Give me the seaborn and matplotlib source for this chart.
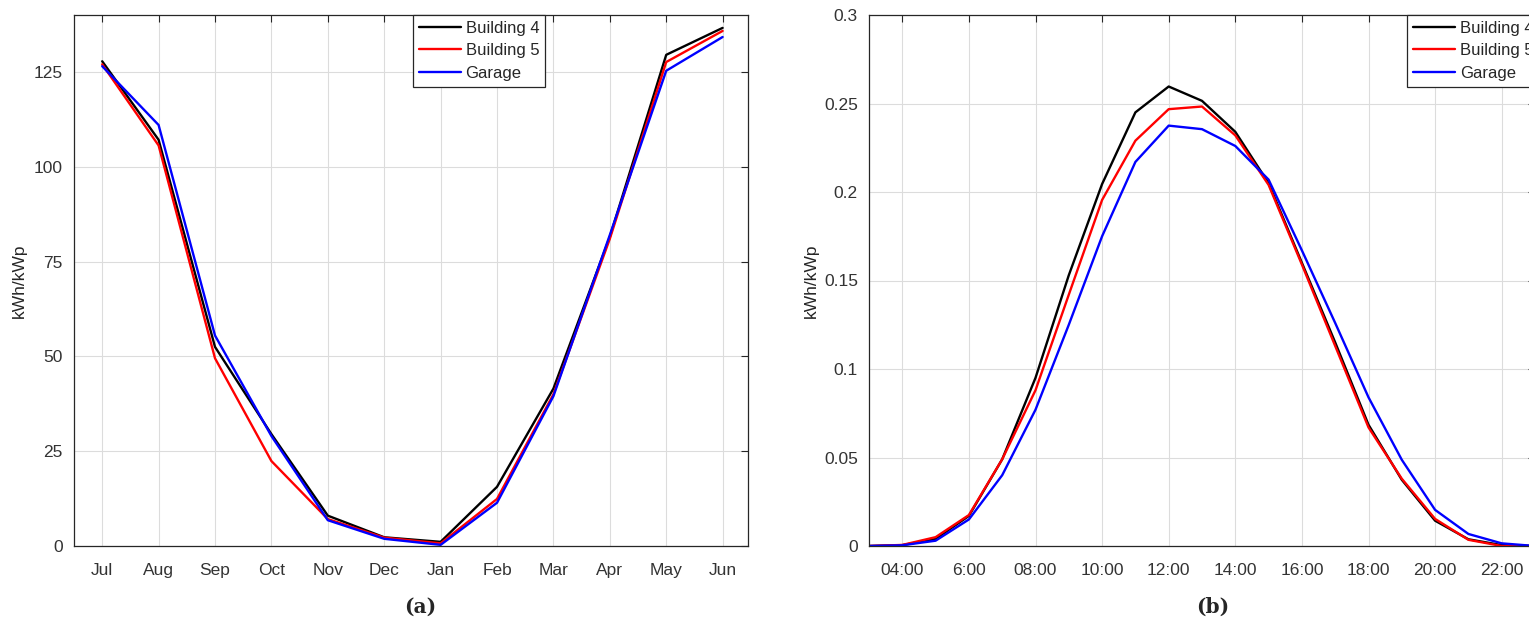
import numpy as np
import pandas as pd
import matplotlib
matplotlib.use("Agg")
import matplotlib.pyplot as plt
import seaborn as sns

# Monthly specific yield (kWh/kWp)
months = ["Jul", "Aug", "Sep", "Oct", "Nov", "Dec", "Jan", "Feb", "Mar", "Apr", "May", "Jun"]
monthly_b4 = [127.8, 107.1, 52.5, 29.5, 8.0, 2.3, 1.1, 15.6, 41.5, 81.5, 129.5, 136.6]
monthly_b5 = [127.0, 105.6, 49.5, 22.4, 7.1, 2.2, 0.7, 12.4, 40.0, 81.0, 127.6, 135.8]
monthly_garage = [126.5, 111.0, 55.5, 29.0, 6.8, 1.9, 0.3, 11.4, 39.5, 82.0, 125.3, 134.2]

# Average hourly specific yield (kWh/kWp)
hours = list(range(3, 24))
hourly_b4 = [0.0, 0.0005, 0.004, 0.017, 0.049, 0.095, 0.153, 0.2045, 0.245, 0.2596, 0.2515,
             0.234, 0.205, 0.160, 0.115, 0.0685, 0.0374, 0.0143, 0.0038, 0.0005, 0.0]
hourly_b5 = [0.0, 0.0006, 0.005, 0.0175, 0.049, 0.088, 0.142, 0.1955, 0.229, 0.2468, 0.2483,
             0.232, 0.204, 0.159, 0.113, 0.067, 0.038, 0.0153, 0.0035, 0.0, 0.0]
hourly_garage = [0.0, 0.0004, 0.003, 0.015, 0.040, 0.077, 0.125, 0.175, 0.217, 0.2375, 0.2355,
                 0.226, 0.207, 0.167, 0.126, 0.084, 0.0487, 0.0204, 0.0068, 0.0015, 0.0]

series_names = ["Building 4", "Building 5", "Garage"]
palette = {"Building 4": "#000000", "Building 5": "#ff0000", "Garage": "#0000ff"}

hour_ticks = [4, 6, 8, 10, 12, 14, 16, 18, 20, 22]
hour_labels = ["04:00", "6:00", "08:00", "10:00", "12:00", "14:00", "16:00", "18:00", "20:00", "22:00"]

monthly = pd.DataFrame({
    "idx": list(range(len(months))) * 3,
    "value": monthly_b4 + monthly_b5 + monthly_garage,
    "series": sum([[n] * len(months) for n in series_names], []),
})
hourly = pd.DataFrame({
    "hour": hours * 3,
    "value": hourly_b4 + hourly_b5 + hourly_garage,
    "series": sum([[n] * len(hours) for n in series_names], []),
})

sns.set_style("white")
plt.rcParams["font.family"] = ["Liberation Sans", "DejaVu Sans"]
plt.rcParams["font.size"] = 12

fig = plt.figure(figsize=(15.29, 6.21), dpi=100)
W, H = 1529, 621
ax1 = fig.add_axes([74 / W, 75 / H, 674 / W, 531 / H])
ax2 = fig.add_axes([869 / W, 75 / H, 666 / W, 531 / H])

sns.lineplot(data=monthly, x="idx", y="value", hue="series", palette=palette,
             linewidth=1.7, ax=ax1)
sns.lineplot(data=hourly, x="hour", y="value", hue="series", palette=palette,
             linewidth=1.7, ax=ax2)

ax1.set_xlim(-0.5, 11.45)
ax1.set_ylim(0, 140)
ax1.set_xticks(range(len(months)))
ax1.set_xticklabels(months)
ax1.set_yticks([0, 25, 50, 75, 100, 125])

ax2.set_xlim(3, 23)
ax2.set_ylim(0, 0.3)
ax2.set_xticks(hour_ticks)
ax2.set_xticklabels(hour_labels)
ax2.set_yticks([0, 0.05, 0.1, 0.15, 0.2, 0.25, 0.3])
ax2.set_yticklabels(["0", "0.05", "0.1", "0.15", "0.2", "0.25", "0.3"])

for ax in (ax1, ax2):
    ax.set_xlabel("")
    ax.set_ylabel("kWh/kWp", fontsize=12.5, color="#262626")
    ax.grid(True, color="#dcdcdc", linewidth=0.8)
    ax.set_axisbelow(True)
    for sp in ax.spines.values():
        sp.set_color("#262626")
        sp.set_linewidth(0.9)
    ax.tick_params(direction="in", length=5, width=0.8, colors="#262626",
                   labelsize=12.5, top=True, right=True)
    ax.tick_params(axis="x", pad=12)
    ax.tick_params(axis="y", pad=8)
    ax.tick_params(axis="both", labelcolor="#333333")

ax1.yaxis.set_label_coords(-0.07, 0.5)
ax2.yaxis.set_label_coords(-0.075, 0.5)

leg_kw = dict(loc="upper left", frameon=True, fancybox=False, edgecolor="#262626",
              framealpha=1, fontsize=12, handlelength=2.5, handletextpad=0.3,
              borderpad=0.35, labelspacing=0.45, borderaxespad=0)
l1 = ax1.legend(bbox_to_anchor=(0.503, 1.0), **leg_kw)
l2 = ax2.legend(bbox_to_anchor=(0.808, 1.0), **leg_kw)
for lg in (l1, l2):
    lg.get_frame().set_linewidth(0.9)
    for line in lg.get_lines():
        line.set_linewidth(1.7)

fig.text(420 / W, 1 - 607 / H, "(a)", ha="center", va="center", fontsize=14.5,
         fontweight="bold", family=["DejaVu Serif"])
fig.text(1213 / W, 1 - 607 / H, "(b)", ha="center", va="center", fontsize=14.5,
         fontweight="bold", family=["DejaVu Serif"])

fig.savefig("out.png", dpi=100)
